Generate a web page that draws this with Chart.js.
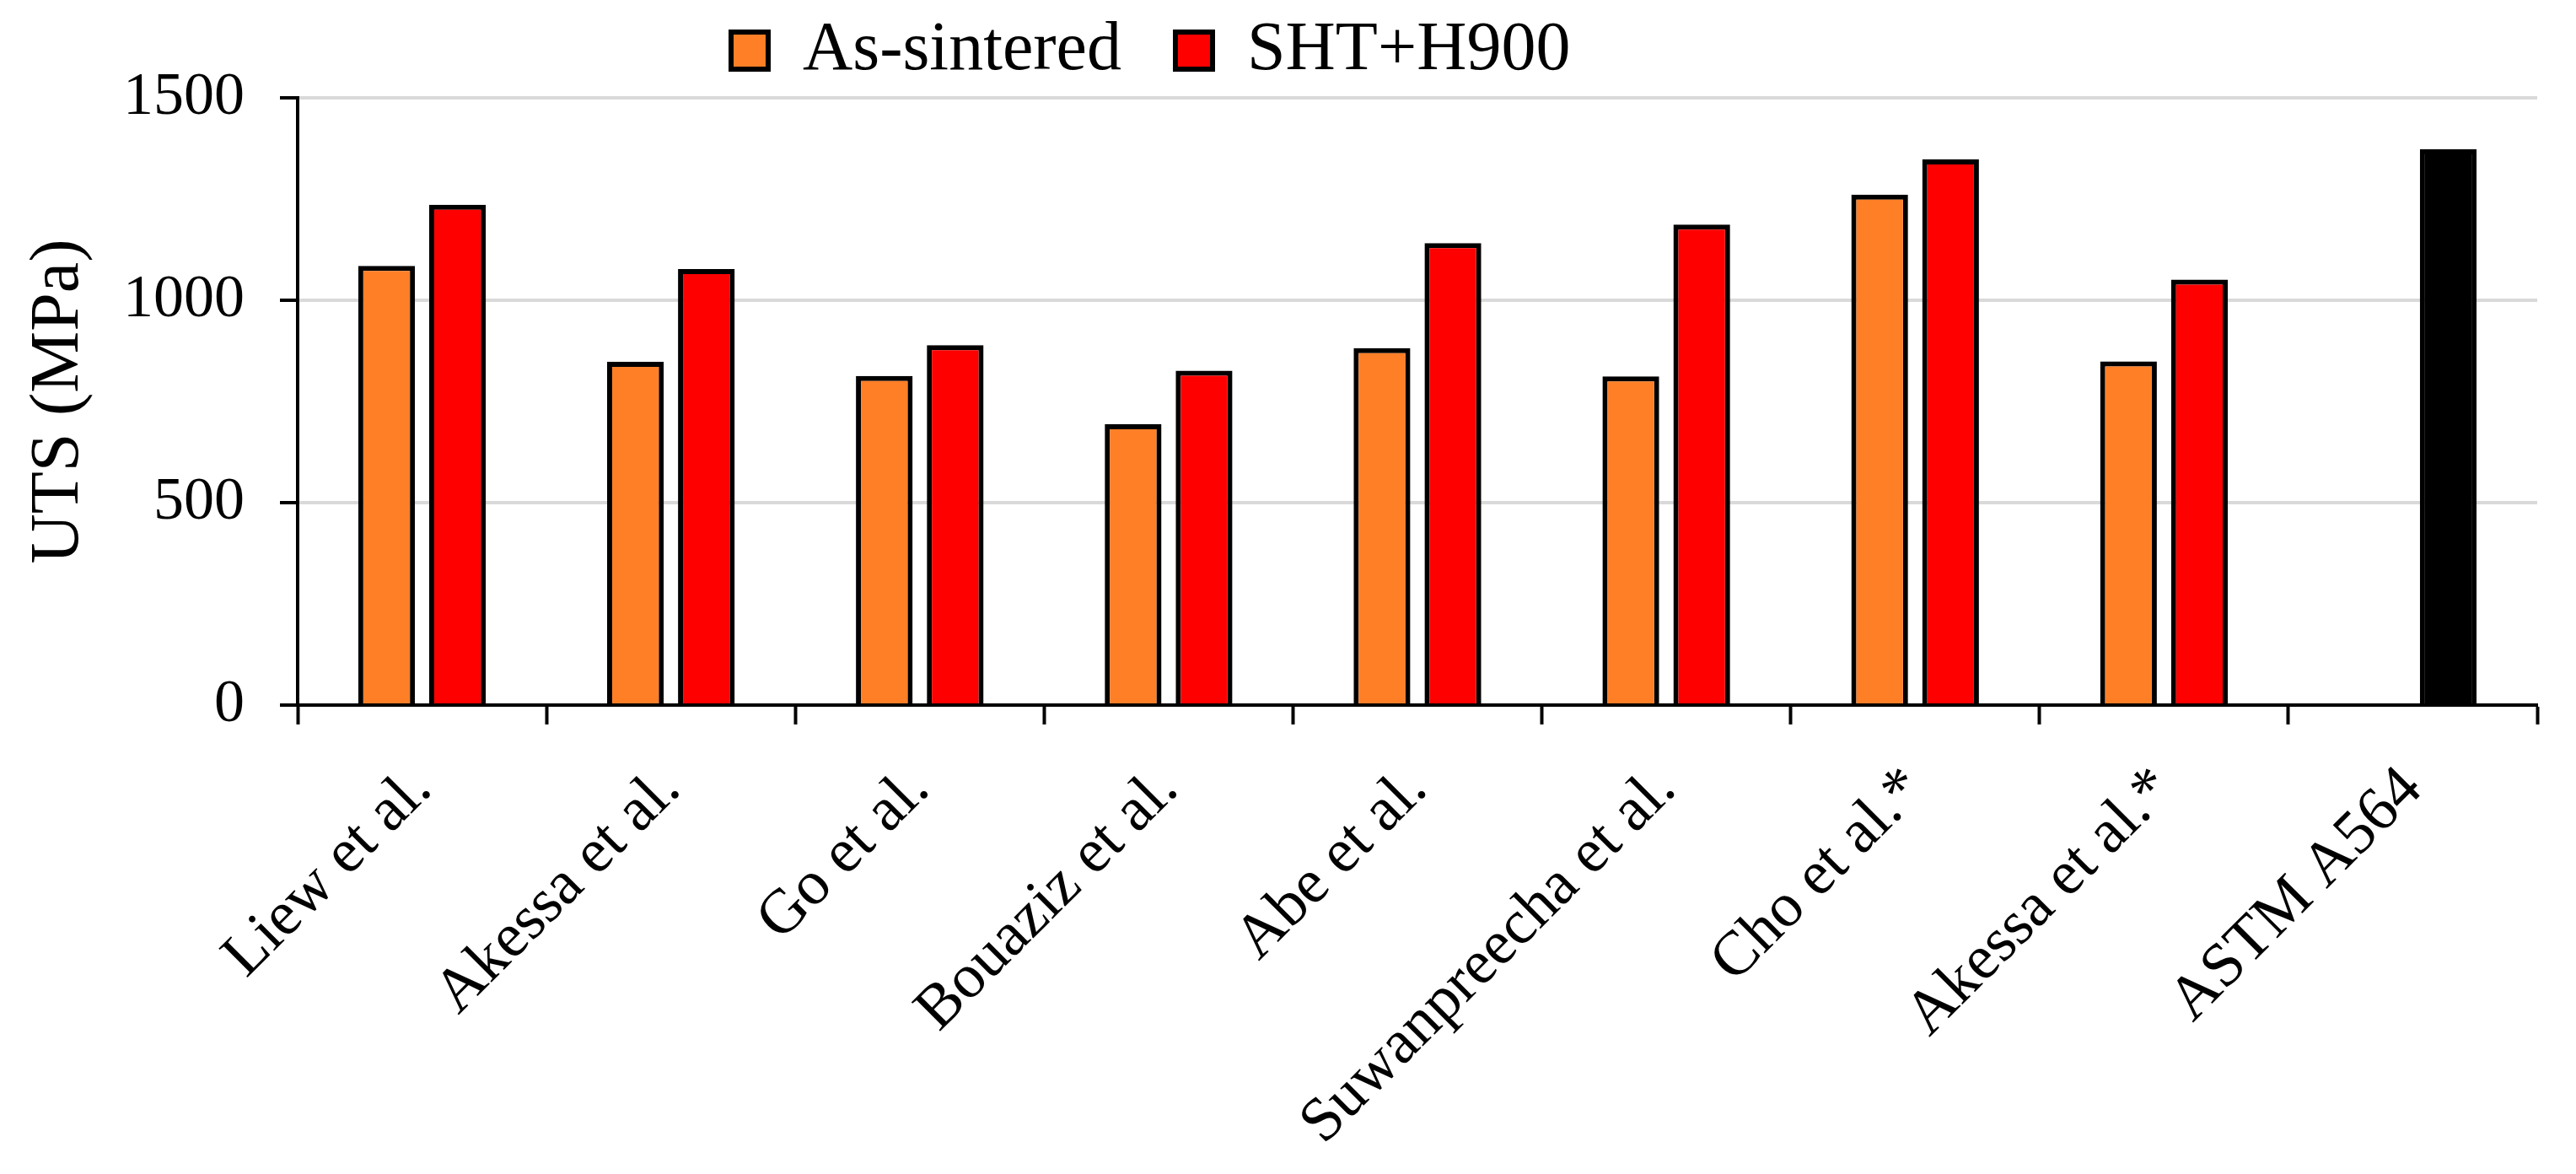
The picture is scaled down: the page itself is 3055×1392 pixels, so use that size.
<!DOCTYPE html>
<html lang="en">
<head>
  <meta charset="UTF-8">
  <title>UTS comparison</title>
  <script src="https://cdn.jsdelivr.net/npm/chart.js"></script>
  <style>
    html, body { margin: 0; padding: 0; background: #fff; }
    #wrap { width: 3055px; height: 1392px; position: relative; }
  </style>
</head>
<body>
  <div id="wrap"><canvas id="utsChart"></canvas></div>

  <script>
    // Data
    const categories = ['Liew et al.', 'Akessa et al.', 'Go et al.', 'Bouaziz et al.', 'Abe et al.',
      'Suwanpreecha et al.', 'Cho et al.*', 'Akessa et al.*', 'ASTM A564'];
    const asSintered = [1085, 848, 813, 694, 882, 812, 1261, 849, null];
    const shtH900 = [1236, 1077, 889, 826, 1141, 1187, 1348, 1051, 1373];
    const yTicks = [0, 500, 1000, 1500];
    const referenceLabel = 'ASTM A564';   // standard value, drawn in black

    Chart.defaults.font.family = '"Liberation Serif", "Times New Roman", serif';
    Chart.defaults.color = '#000';

    // move the legend where the original has it (left of centre, near the top)
    // only the top edge is raised so the clip box still holds the text
    const legendShift = {
      id: 'legendShift',
      afterLayout(chart) {
        const lg = chart.legend;
        const pad = lg.options.labels.padding;
        const startX = (lg.left + pad + lg.right - lg.lineWidths[0]) / 2;
        const dx = 867 - startX;
        const dy = 19 - (lg.top + pad);
        lg.left += dx; lg.right += dx;
        lg.top += dy;
      }
    };

    const ctx = document.getElementById('utsChart').getContext('2d');
    new Chart(ctx, {
      type: 'bar',
      data: {
        labels: categories,
        datasets: [{
          label: 'As-sintered',
          data: asSintered,
          backgroundColor: '#FF7F27',
          borderColor: '#000',
          borderWidth: 6
        }, {
          label: 'SHT+H900',
          data: shtH900,
          backgroundColor: c => categories[c.dataIndex] === referenceLabel ? '#000' : '#FF0000',
          borderColor: '#000',
          borderWidth: 6
        }]
      },
      options: {
        responsive: true,
        maintainAspectRatio: false,
        animation: false,
        devicePixelRatio: 1,
        categoryPercentage: 0.57,
        barPercentage: 0.8,
        layout: { padding: { left: 0, right: 46, top: 0, bottom: 0 } },
        plugins: {
          tooltip: { enabled: false },
          legend: {
            position: 'top',
            maxHeight: 116,
            labels: {
              font: { size: 82 },
              boxWidth: 44,
              boxHeight: 44,
              padding: 64,
              color: '#000'
            }
          }
        },
        scales: {
          x: {
            grid: {
              display: true,
              drawOnChartArea: false,
              tickLength: 23,
              tickColor: '#000',
              tickWidth: 4,
              offset: true
            },
            border: { color: '#000', width: 4 },
            ticks: {
              font: { size: 74 },
              color: '#000',
              minRotation: 45,
              maxRotation: 45,
              autoSkip: false,
              padding: 34
            },
            afterFit: s => { s.height = 556; }
          },
          y: {
            min: 0,
            max: 1500,
            afterBuildTicks: s => { s.ticks = yTicks.map(v => ({ value: v })); },
            grid: {
              color: '#D9D9D9',
              lineWidth: 4,
              tickLength: 21,
              tickColor: '#000',
              tickWidth: 4
            },
            border: { color: '#000', width: 4 },
            ticks: {
              font: { size: 72 },
              color: '#000',
              padding: 42,
              callback: v => String(v)
            },
            title: {
              display: true,
              text: 'UTS (MPa)',
              font: { size: 82, lineHeight: 1.2 },
              color: '#000',
              padding: { top: 21, bottom: 0 }
            },
            afterFit: s => { s.width = 353; }
          }
        }
      },
      plugins: [legendShift]
    });
  </script>
</body>
</html>
